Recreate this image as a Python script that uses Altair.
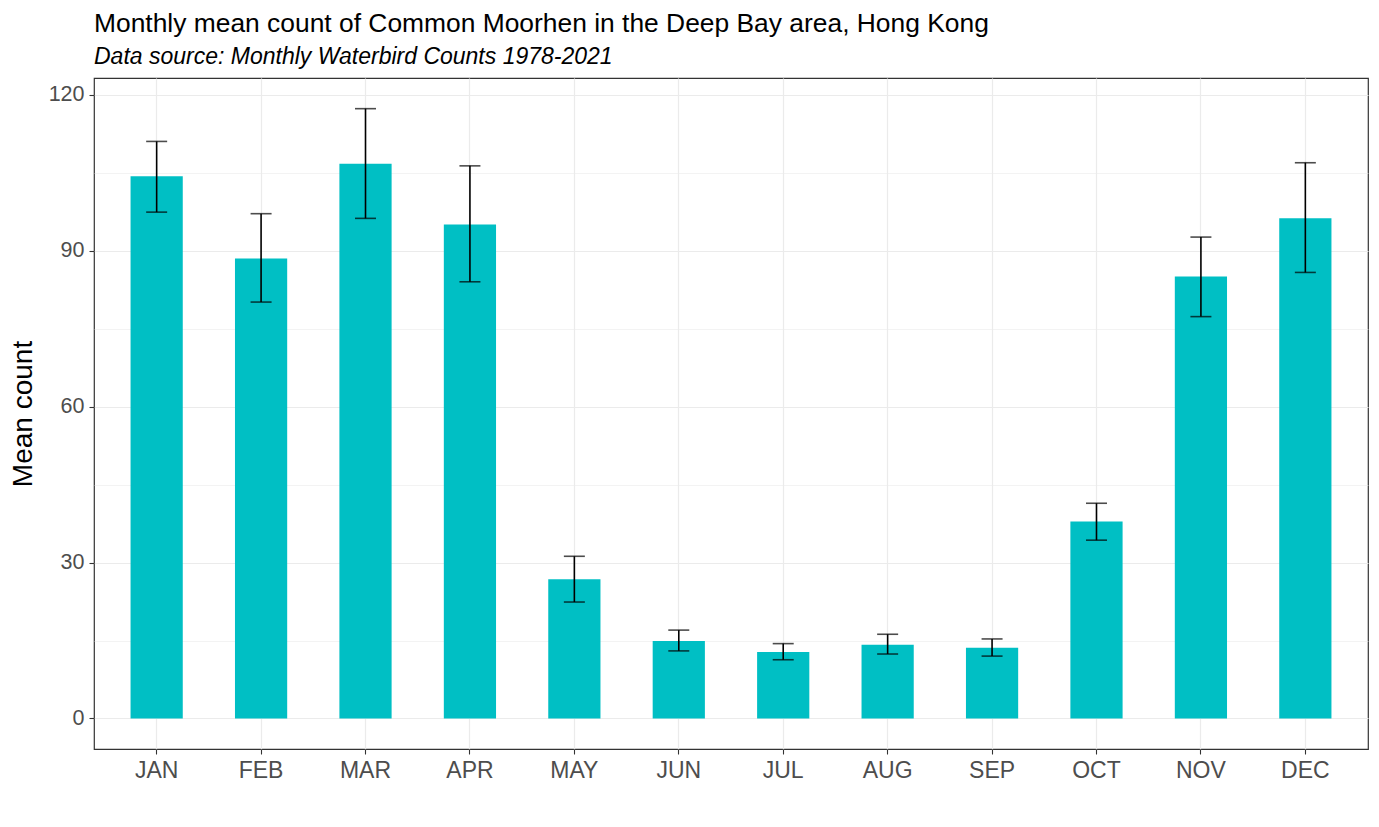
import altair as alt
import pandas as pd

months = ["JAN", "FEB", "MAR", "APR", "MAY", "JUN", "JUL", "AUG", "SEP", "OCT", "NOV", "DEC"]
mean_count = [104.3, 88.5, 106.7, 95.0, 26.8, 14.9, 12.8, 14.2, 13.6, 37.9, 85.0, 96.2]
upper = [111.0, 97.1, 117.3, 106.3, 31.2, 17.0, 14.4, 16.2, 15.3, 41.4, 92.6, 106.9]
lower = [97.4, 80.1, 96.2, 84.0, 22.4, 13.0, 11.3, 12.4, 12.0, 34.3, 77.3, 85.8]
y_ticks = [0, 15, 30, 45, 60, 75, 90, 105, 120]

df = pd.DataFrame({"month": months, "mean": mean_count, "upper": upper, "lower": lower})

FONT = "Liberation Sans"

x = alt.X("month:N", sort=months, title=None,
          scale=alt.Scale(paddingInner=0.5, paddingOuter=0.35),
          axis=alt.Axis(bandPosition=0.5, grid=True, gridColor="#EBEBEB", gridWidth=1.2,
                        domain=False, tickColor="#333333", tickSize=5, tickWidth=1.1,
                        labelAngle=0, labelFont=FONT, labelFontSize=23, labelColor="#4D4D4D",
                        labelPadding=5))

y_scale = alt.Scale(domain=[-5.87, 123.2], nice=False, zero=False)

bars = alt.Chart(df).mark_bar(color="#00BFC4").encode(
    x=x,
    y=alt.Y("mean:Q", scale=y_scale, title="Mean count",
            axis=alt.Axis(values=y_ticks, grid=True, gridColor="#EBEBEB",
                          gridWidth={"condition": {"test": "datum.value % 30 !== 0", "value": 0.6}, "value": 1.2},
                          tickOpacity={"condition": {"test": "datum.value % 30 !== 0", "value": 0}, "value": 1},
                          labelExpr="datum.value % 30 === 0 ? datum.label : ''",
                          domain=False, tickColor="#333333", tickSize=5, tickWidth=1.1,
                          labelFont=FONT, labelFontSize=21.5, labelColor="#4D4D4D", labelPadding=5,
                          titleFont=FONT, titleFontSize=28, titleFontWeight="normal", titleColor="#000000",
                          titlePadding=11)),
    y2=alt.datum(0),
)

rules = alt.Chart(df).mark_rule(color="#000000", strokeWidth=1.6).encode(
    x=alt.X("month:N", sort=months),
    y=alt.Y("lower:Q", scale=y_scale),
    y2="upper:Q",
)

caps_top = alt.Chart(df).mark_tick(color="#000000", thickness=1.6, size=21, orient="horizontal").encode(
    x=alt.X("month:N", sort=months),
    y=alt.Y("upper:Q", scale=y_scale),
)
caps_bot = alt.Chart(df).mark_tick(color="#000000", thickness=1.6, size=21, orient="horizontal").encode(
    x=alt.X("month:N", sort=months),
    y=alt.Y("lower:Q", scale=y_scale),
)

chart = alt.layer(bars, rules, caps_top, caps_bot).properties(
    width=1274,
    height=671,
    title=alt.TitleParams(
        text="Monthly mean count of Common Moorhen in the Deep Bay area, Hong Kong",
        subtitle="Data source: Monthly Waterbird Counts 1978-2021",
        anchor="start", frame="group", font=FONT, fontSize=26.4, fontWeight="normal", color="#000000",
        subtitleFont=FONT, subtitleFontSize=23, subtitleFontStyle="italic", subtitleColor="#000000",
        subtitlePadding=9, offset=9,
    ),
    autosize=alt.AutoSizeParams(type="none"),
    padding={"left": 86, "top": 70, "right": 3, "bottom": 60},
).configure(
    background="white",
    view=alt.ViewConfig(stroke="#333333", strokeWidth=1.2),
)

chart.save("out.html", embed_options={"renderer": "svg", "actions": False})
